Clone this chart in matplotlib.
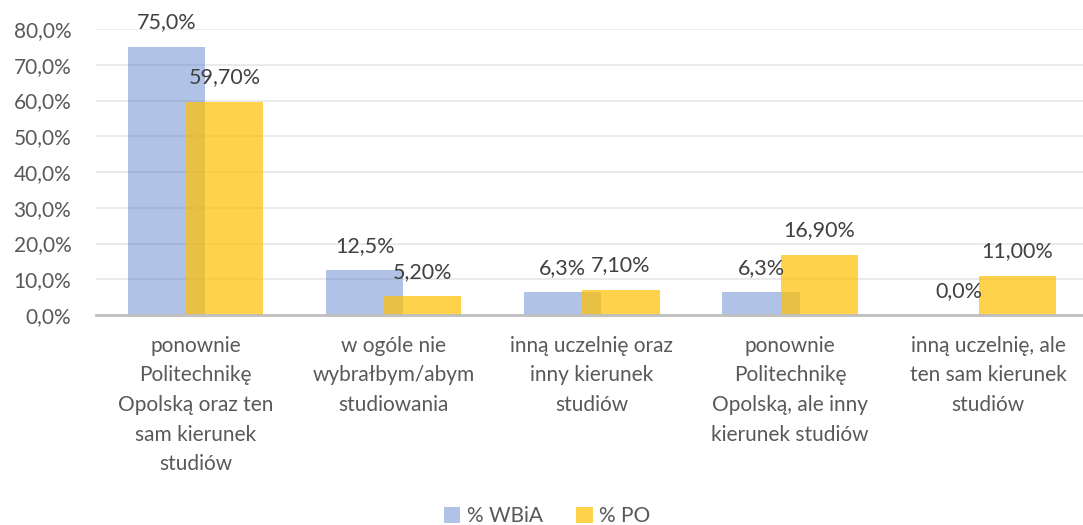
import matplotlib.pyplot as plt
import numpy as np

plt.rcParams['font.family'] = ['Lato', 'DejaVu Sans']

categories = [
    "ponownie\nPolitechnikę\nOpolską oraz ten\nsam kierunek\nstudiów",
    "w ogóle nie\nwybrałbym/abym\nstudiowania",
    "inną uczelnię oraz\ninny kierunek\nstudiów",
    "ponownie\nPolitechnikę\nOpolską, ale inny\nkierunek studiów",
    "inną uczelnię, ale\nten sam kierunek\nstudiów",
]
wbia = [75.0, 12.5, 6.3, 6.3, 0.0]
po = [59.70, 5.20, 7.10, 16.90, 11.00]
wbia_labels = ["75,0%", "12,5%", "6,3%", "6,3%", "0,0%"]
po_labels = ["59,70%", "5,20%", "7,10%", "16,90%", "11,00%"]
yticks = [0, 10, 20, 30, 40, 50, 60, 70, 80]

fig = plt.figure(figsize=(10.83, 5.25), dpi=100)
ax = fig.add_axes([96.4 / 1083, 0.4, 991 / 1083, 286 / 525])

x = np.arange(len(categories))
w = 0.39
off = 0.147

ax.bar(x - off, wbia, w, color="#4472C4", alpha=0.42, label="% WBiA", zorder=2)
ax.bar(x + off, po, w, color="#FFC000", alpha=0.7, label="% PO", zorder=3)

for i in range(len(x)):
    ax.text(x[i] - off, wbia[i] + 4.0, wbia_labels[i], ha="center", va="bottom",
            fontsize=15.5, color="#404040", zorder=5)
    ax.text(x[i] + off, po[i] + 4.0, po_labels[i], ha="center", va="bottom",
            fontsize=15.5, color="#404040", zorder=5)

ax.set_xlim(-0.5, len(x) - 0.5)
ax.set_ylim(0, 80)
ax.set_yticks(yticks)
ax.set_yticklabels([f"{v},0%" for v in yticks], fontsize=15, color="#595959")
ax.set_xticks(x)
ax.set_xticklabels(categories, fontsize=15, color="#595959", linespacing=1.6)
ax.tick_params(axis="both", length=0)
ax.tick_params(axis="y", pad=18)
ax.tick_params(axis="x", pad=15)

ax.grid(axis="y", color="#E6E6E6", linewidth=1.2, zorder=0)
ax.set_axisbelow(True)
for s in ["top", "right", "left"]:
    ax.spines[s].set_visible(False)
ax.spines["bottom"].set_color("#BFBFBF")
ax.spines["bottom"].set_linewidth(2)
ax.spines["bottom"].set_zorder(4)

fig.legend(loc="lower center", bbox_to_anchor=(0.505, -0.038), ncol=2, frameon=False,
           fontsize=15, handlelength=0.8, handleheight=0.8, handletextpad=0.3,
           columnspacing=1.6, labelcolor="#595959")

fig.savefig("out.png", dpi=100)
